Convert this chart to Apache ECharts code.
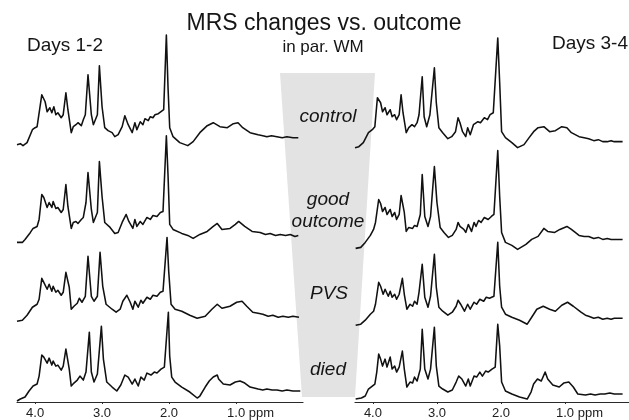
<!DOCTYPE html>
<html>
<head>
<meta charset="utf-8">
<script src="https://cdn.jsdelivr.net/npm/echarts@6/dist/echarts.min.js"></script>
<style>
  html, body { margin: 0; padding: 0; background: #fff; }
  #chart { width: 629px; height: 420px; }
</style>
</head>
<body>
<div id="chart"></div>
<script>
// Proton MR spectra of parietal white matter, grouped by outcome.
// Each spectrum: [chemical shift (ppm), signal intensity (arbitrary units above its baseline)].

const groupLabels = ['control', 'good outcome', 'PVS', 'died'];
const panelTitles = ['Days 1-2', 'Days 3-4'];
const ppmTicks = [4, 3, 2, 1];

// ---- Days 1-2 ----
const d12Control = [[4.27,-7],[4.22,-6],[4.18,-8],[4.12,-5],[4.04,8],[4.00,10],[3.97,11],[3.90,43],[3.85,36],[3.82,26],[3.78,30],[3.75,25],[3.72,31],[3.69,23],[3.66,25],[3.61,20],[3.58,23],[3.54,45],[3.51,28],[3.46,5],[3.43,11],[3.39,13],[3.36,15],[3.31,12],[3.28,18],[3.25,23],[3.21,63],[3.16,23],[3.13,13],[3.07,23],[3.04,72],[3.00,31],[2.96,10],[2.91,7],[2.85,5],[2.81,1],[2.76,3],[2.70,11],[2.66,22],[2.61,13],[2.55,5],[2.51,15],[2.48,8],[2.43,16],[2.39,13],[2.36,19],[2.31,17],[2.28,21],[2.24,20],[2.21,23],[2.16,24],[2.12,26],[2.08,28],[2.04,103],[2.015,50],[1.99,10],[1.94,1],[1.84,-5],[1.72,-8],[1.64,-4],[1.54,5],[1.43,12],[1.34,15],[1.24,11],[1.13,10],[1.04,14],[0.97,15],[0.90,10],[0.79,5],[0.67,3],[0.60,2],[0.54,1],[0.47,2],[0.39,1],[0.31,0],[0.24,1],[0.15,0],[0.07,0]];
const d12Good = [[4.27,-7],[4.19,-7],[4.15,-4],[4.07,3],[4.03,7],[3.97,9],[3.94,16],[3.90,41],[3.87,38],[3.82,28],[3.79,33],[3.75,28],[3.73,34],[3.69,27],[3.66,28],[3.61,23],[3.58,26],[3.54,51],[3.51,29],[3.46,7],[3.43,13],[3.39,14],[3.36,12],[3.31,16],[3.28,18],[3.24,33],[3.21,63],[3.16,26],[3.13,13],[3.07,23],[3.04,74],[3.00,39],[2.96,13],[2.88,8],[2.81,2],[2.76,3],[2.70,13],[2.64,21],[2.60,14],[2.54,7],[2.51,16],[2.48,9],[2.43,14],[2.39,11],[2.33,18],[2.28,16],[2.24,20],[2.18,19],[2.13,23],[2.09,24],[2.04,100],[2.015,60],[1.99,11],[1.94,6],[1.81,2],[1.72,0],[1.64,-3],[1.54,1],[1.43,4],[1.34,9],[1.28,12],[1.21,6],[1.09,7],[1.01,11],[0.96,14],[0.87,9],[0.76,4],[0.64,3],[0.56,1],[0.49,2],[0.41,0],[0.34,1],[0.26,0],[0.19,1],[0.12,-1],[0.07,0]];
const d12PVS = [[4.27,-5],[4.19,-4],[4.12,1],[4.04,9],[3.97,12],[3.94,17],[3.90,38],[3.87,34],[3.82,27],[3.79,32],[3.75,25],[3.73,30],[3.69,24],[3.66,26],[3.61,21],[3.58,24],[3.54,44],[3.49,29],[3.46,7],[3.42,10],[3.37,13],[3.34,18],[3.30,14],[3.25,20],[3.21,60],[3.16,20],[3.12,15],[3.07,20],[3.03,64],[2.99,30],[2.94,12],[2.85,7],[2.79,4],[2.73,7],[2.69,15],[2.63,21],[2.58,14],[2.54,7],[2.51,15],[2.46,9],[2.42,16],[2.39,13],[2.33,19],[2.28,17],[2.24,21],[2.18,20],[2.13,24],[2.09,25],[2.03,79],[2.005,45],[1.97,12],[1.91,7],[1.81,5],[1.69,1],[1.58,-2],[1.46,0],[1.36,7],[1.28,12],[1.21,8],[1.09,10],[0.99,14],[0.91,15],[0.84,10],[0.75,4],[0.67,3],[0.60,2],[0.52,0],[0.45,1],[0.37,-1],[0.30,0],[0.22,-1],[0.15,0],[0.06,-1]];
const d12Died = [[4.27,-10],[4.22,-8],[4.15,-6],[4.09,0],[4.03,5],[3.97,7],[3.94,15],[3.90,36],[3.87,34],[3.82,28],[3.79,33],[3.75,26],[3.73,30],[3.69,25],[3.66,26],[3.61,21],[3.58,25],[3.54,42],[3.49,22],[3.46,5],[3.42,8],[3.37,11],[3.33,15],[3.28,11],[3.24,19],[3.19,59],[3.16,19],[3.12,9],[3.07,17],[3.01,65],[2.98,32],[2.93,9],[2.85,4],[2.78,0],[2.72,6],[2.66,16],[2.61,14],[2.55,7],[2.51,12],[2.46,5],[2.42,14],[2.37,11],[2.33,18],[2.27,16],[2.22,19],[2.18,18],[2.12,22],[2.07,24],[2.01,79],[1.99,35],[1.96,14],[1.91,9],[1.81,4],[1.69,-1],[1.58,-7],[1.54,-5],[1.46,4],[1.40,10],[1.34,14],[1.28,16],[1.26,12],[1.19,7],[1.09,6],[1.01,9],[0.94,10],[0.87,8],[0.79,4],[0.67,2],[0.60,1],[0.54,2],[0.46,1],[0.39,1],[0.31,0],[0.24,1],[0.15,0],[0.04,0]];

// ---- Days 3-4 ----
const d34Control = [[4.28,-6],[4.22,-5],[4.15,-1],[4.07,9],[4.01,12],[3.97,15],[3.93,44],[3.88,39],[3.85,30],[3.81,34],[3.78,27],[3.73,32],[3.70,25],[3.66,27],[3.63,22],[3.59,27],[3.56,47],[3.53,29],[3.48,9],[3.44,14],[3.39,17],[3.35,15],[3.31,19],[3.28,27],[3.23,65],[3.20,25],[3.16,15],[3.11,27],[3.04,74],[3.01,39],[2.97,14],[2.91,9],[2.83,3],[2.77,5],[2.71,10],[2.67,24],[2.64,19],[2.60,10],[2.55,5],[2.52,14],[2.48,7],[2.43,17],[2.40,15],[2.36,20],[2.32,19],[2.26,24],[2.21,22],[2.17,27],[2.12,29],[2.05,104],[2.02,59],[1.99,10],[1.93,4],[1.83,-1],[1.74,-6],[1.64,-3],[1.56,4],[1.49,10],[1.42,14],[1.33,15],[1.24,10],[1.15,11],[1.05,15],[0.97,14],[0.90,9],[0.78,5],[0.70,4],[0.63,3],[0.55,1],[0.48,2],[0.41,0],[0.34,0],[0.28,1],[0.23,0],[0.10,0]];
const d34Good = [[4.27,-9],[4.19,-8],[4.12,-3],[4.04,4],[3.99,10],[3.96,17],[3.91,40],[3.88,36],[3.85,28],[3.81,32],[3.78,25],[3.73,30],[3.70,23],[3.66,27],[3.63,20],[3.59,25],[3.56,44],[3.51,27],[3.48,8],[3.44,12],[3.38,11],[3.35,14],[3.31,13],[3.26,25],[3.23,65],[3.19,23],[3.14,13],[3.10,23],[3.04,73],[3.00,37],[2.95,12],[2.89,7],[2.82,2],[2.76,4],[2.70,10],[2.67,17],[2.64,13],[2.58,10],[2.55,7],[2.51,15],[2.46,8],[2.42,17],[2.39,13],[2.35,19],[2.31,17],[2.26,22],[2.20,20],[2.15,23],[2.11,25],[2.05,89],[2.02,43],[1.99,7],[1.93,-3],[1.83,-6],[1.74,-10],[1.61,-5],[1.52,0],[1.42,3],[1.33,11],[1.27,8],[1.16,7],[1.08,10],[0.97,13],[0.90,10],[0.78,4],[0.70,3],[0.63,3],[0.55,1],[0.48,2],[0.41,0],[0.34,1],[0.28,0],[0.23,0],[0.10,0]];
const d34PVS = [[4.27,-7],[4.19,-6],[4.12,-2],[4.04,4],[3.99,7],[3.96,14],[3.91,36],[3.88,32],[3.84,24],[3.81,29],[3.76,22],[3.73,27],[3.70,21],[3.66,24],[3.63,19],[3.59,24],[3.54,40],[3.51,24],[3.47,9],[3.42,14],[3.38,12],[3.35,17],[3.31,14],[3.28,26],[3.23,54],[3.19,21],[3.14,11],[3.10,22],[3.04,64],[3.01,31],[2.97,11],[2.91,7],[2.83,3],[2.76,6],[2.70,12],[2.67,18],[2.63,14],[2.57,7],[2.52,14],[2.48,9],[2.42,16],[2.38,14],[2.33,19],[2.27,17],[2.23,21],[2.18,20],[2.11,22],[2.05,76],[2.02,32],[1.99,11],[1.93,4],[1.83,1],[1.71,-2],[1.59,-6],[1.52,1],[1.44,9],[1.34,12],[1.24,9],[1.15,7],[1.05,13],[0.96,16],[0.87,12],[0.75,6],[0.68,3],[0.63,2],[0.55,0],[0.48,1],[0.41,-1],[0.34,0],[0.28,-1],[0.23,0],[0.10,0]];
const d34Died = [[4.27,-5],[4.18,-4],[4.12,-2],[4.07,5],[4.03,7],[3.97,10],[3.94,22],[3.91,40],[3.88,35],[3.85,28],[3.81,35],[3.78,27],[3.73,37],[3.70,25],[3.66,28],[3.63,22],[3.59,27],[3.54,43],[3.51,25],[3.47,7],[3.42,12],[3.38,11],[3.35,17],[3.31,13],[3.26,25],[3.23,65],[3.19,25],[3.14,15],[3.10,25],[3.04,67],[3.01,28],[2.97,8],[2.91,5],[2.83,2],[2.76,4],[2.70,12],[2.66,18],[2.61,15],[2.55,8],[2.51,15],[2.48,8],[2.42,18],[2.38,17],[2.33,22],[2.29,18],[2.24,23],[2.20,22],[2.14,25],[2.09,27],[2.05,70],[2.02,48],[1.99,12],[1.93,3],[1.83,0],[1.71,-3],[1.59,-5],[1.53,2],[1.49,10],[1.43,15],[1.37,13],[1.31,22],[1.27,15],[1.19,9],[1.09,7],[1.02,11],[0.94,12],[0.87,7],[0.80,0],[0.68,-1],[0.60,0],[0.53,-1],[0.45,0],[0.38,0],[0.30,1],[0.23,0],[0.10,0]];

const days12 = [d12Control, d12Good, d12PVS, d12Died];
const days34 = [d34Control, d34Good, d34PVS, d34Died];

// vertical stacking of the four spectra in each panel (baseline heights)
const stack12 = [265, 167, 86, 11];
const stack34 = [261, 163, 84, 8];

const FONT = '"Liberation Sans", Arial, Helvetica, sans-serif';
const INK = '#111111';

function spectrumSeries(list, stack, axisIndex) {
  return list.map((spec, i) => ({
    name: panelTitles[axisIndex] + ' ' + groupLabels[i],
    type: 'line',
    xAxisIndex: axisIndex,
    yAxisIndex: axisIndex,
    data: spec.map(p => [p[0], p[1] + stack[i]]),
    showSymbol: false,
    symbol: 'none',
    clip: false,
    silent: true,
    z: 5,
    lineStyle: { color: INK, width: 1.55, join: 'round' }
  }));
}

function ppmAxis(gridIndex, max) {
  return {
    type: 'value',
    gridIndex,
    min: 0,
    max,
    interval: 1,
    inverse: true,
    splitLine: { show: false },
    axisLine: { show: true, lineStyle: { color: '#2a2a2a', width: 1.2 } },
    axisTick: { show: true, length: 2, lineStyle: { color: '#2a2a2a' } },
    axisLabel: {
      margin: 5,
      fontSize: 13,
      fontFamily: FONT,
      color: '#202020',
      showMinLabel: false,
      showMaxLabel: false,
      formatter: v => {
        const r = Math.round(v * 100) / 100;
        if (!ppmTicks.includes(r)) return '';
        return r === 1 ? '{pad|}1.0 ppm' : r.toFixed(1);
      },
      rich: { pad: { width: 29 } }
    }
  };
}

function intensityAxis(gridIndex) {
  return { type: 'value', gridIndex, min: 0, max: 403, show: false };
}

function label(text, x, y, size) {
  return {
    type: 'text',
    x, y,
    z: 20,
    silent: true,
    style: {
      text,
      fill: '#151515',
      fontSize: size,
      fontFamily: FONT,
      align: 'center',
      verticalAlign: 'middle'
    }
  };
}

const chart = echarts.init(document.getElementById('chart'), null, { renderer: 'canvas' });

const graphics = [
  {
    type: 'polygon',
    z: 0,
    silent: true,
    shape: { points: [[280, 73], [375, 73], [355, 397], [302, 397]] },
    style: { fill: '#e3e3e3' }
  },
  label('MRS changes vs. outcome', 324, 24, 23),
  label('in par. WM', 323, 47, 17),
  label(panelTitles[0], 65, 46, 19),
  label(panelTitles[1], 590, 44, 19)
];

// outcome group names inside the funnel, one entry per text line
const groupLines = [['control', 328, 117], ['good', 328, 200], ['outcome', 328, 222], ['PVS', 329, 294], ['died', 328, 370]];
groupLines.forEach(([t, x, y]) => {
  const el = label(t, x, y, 19);
  el.style.fontStyle = 'italic';
  graphics.push(el);
});

chart.setOption({
  animation: false,
  backgroundColor: '#ffffff',
  grid: [
    { left: 17, top: 0, width: 286, height: 403 },
    { left: 355, top: 0, width: 290, height: 403 }
  ],
  xAxis: [ppmAxis(0, 4.27), ppmAxis(1, 4.28)],
  yAxis: [intensityAxis(0), intensityAxis(1)],
  series: spectrumSeries(days12, stack12, 0).concat(spectrumSeries(days34, stack34, 1)),
  graphic: { elements: graphics }
});
</script>
</body>
</html>
